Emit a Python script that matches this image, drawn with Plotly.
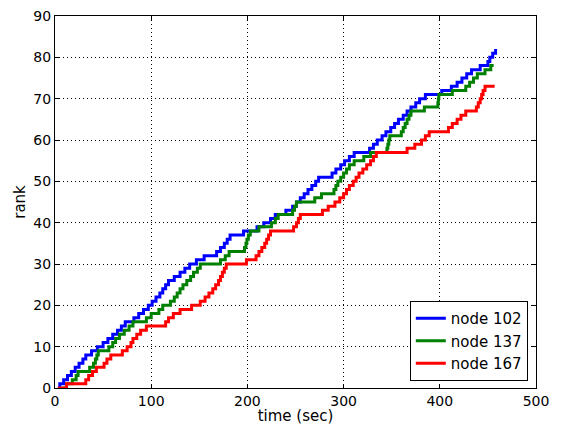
import plotly.graph_objects as go

# Series names
series_names = ["node 102", "node 137", "node 167"]

# Time (sec) at which each series' rank increases by one (rank 1, 2, ...)
blue_start = 3
blue_times = [5, 9, 13, 17, 21, 25, 29, 32, 38, 44, 50, 55, 60, 65, 69, 73, 82, 87, 92, 97,
              101, 105, 109, 112, 115, 118, 124, 130, 135, 140, 147, 155, 168, 172, 176, 179, 182,
              196, 210, 217, 224, 229, 240, 247, 251, 255, 259, 263, 267, 271, 274,
              288, 292, 297, 301, 306, 311, 327, 331, 335, 340, 344, 349, 353, 357, 362, 366,
              370, 375, 379, 385, 402, 412, 418, 423, 428, 433, 442, 450, 452, 455, 458]
blue_end = 458

green_start = 8
green_times = [12, 18, 22, 24, 36, 40, 42, 43.5, 45, 56, 60, 63, 67, 72, 77, 81, 95, 100, 108, 112,
               120, 124, 127, 130, 133, 137, 141, 144, 148, 151, 172, 177, 181,
               197, 198.5, 199.5, 201, 203, 212, 225, 229, 232, 247, 249, 251, 270, 277,
               290, 292, 294, 297, 300, 303, 306, 311, 321, 328, 345, 346, 347, 348,
               360, 362, 364, 366, 368, 370, 384, 398, 398.5, 399, 413, 427, 431, 435, 439, 447, 453]
green_end = 456

red_start = 3
red_times = [12, 32, 35, 39, 43, 51, 54, 58, 70, 75, 79, 81, 85, 89, 95, 115, 118, 123, 130, 142,
             151, 156, 160, 164, 167, 170, 172, 174, 176, 178, 199, 209, 212, 215, 218, 220, 222, 224,
             248, 251, 253, 255, 278, 284, 291, 296, 300, 303, 306, 310, 313, 316, 320, 324, 328,
             331, 334, 366, 374, 381, 385, 389, 409, 413, 418, 422, 427, 438, 440, 442, 443.5, 445, 447]
red_end = 457

x_ticks = [0, 100, 200, 300, 400, 500]
y_ticks = [0, 10, 20, 30, 40, 50, 60, 70, 80, 90]

colors = ["#0000ff", "#008000", "#ff0000"]
series = [(blue_start, blue_times, blue_end),
          (green_start, green_times, green_end),
          (red_start, red_times, red_end)]

fig = go.Figure()
for name, color, (start, times, end) in zip(series_names, colors, series):
    xs = [start] + list(times) + [end]
    ranks = [0] + [i + 1 for i in range(len(times))]
    ys = ranks + [ranks[-1]]
    fig.add_trace(go.Scatter(x=xs, y=ys, mode="lines", name=name,
                             line=dict(color=color, width=3, shape="hv")))

font = "DejaVu Sans, Liberation Sans, sans-serif"
axis_common = dict(
    showline=True, linecolor="black", linewidth=1, mirror="ticks",
    ticks="inside", ticklen=4, tickcolor="black", tickwidth=1,
    showgrid=True, gridcolor="black", gridwidth=1, griddash="1px,3px",
    zeroline=False, tickfont=dict(family=font, size=14, color="black"),
    automargin=False, ticklabeloverflow="allow",
)

fig.update_layout(
    width=554, height=417,
    margin=dict(l=47, r=26, t=8, b=37),
    paper_bgcolor="white", plot_bgcolor="white",
    font=dict(family=font, color="black"),
    xaxis=dict(range=[0, 500], tickvals=x_ticks, ticktext=[str(v) for v in x_ticks],
               title=dict(text="time (sec)", font=dict(family=font, size=15), standoff=2),
               **axis_common),
    yaxis=dict(range=[0, 90], tickvals=y_ticks, ticktext=[str(v) for v in y_ticks],
               title=dict(text="rank", font=dict(family=font, size=15), standoff=4),
               **axis_common),
    legend=dict(x=0.983, y=0.019, xanchor="right", yanchor="bottom",
                bgcolor="white", bordercolor="black", borderwidth=1,
                font=dict(family=font, size=15, color="black"),
                tracegroupgap=0, itemwidth=30),
    showlegend=True,
)

fig.write_html("out.html")
